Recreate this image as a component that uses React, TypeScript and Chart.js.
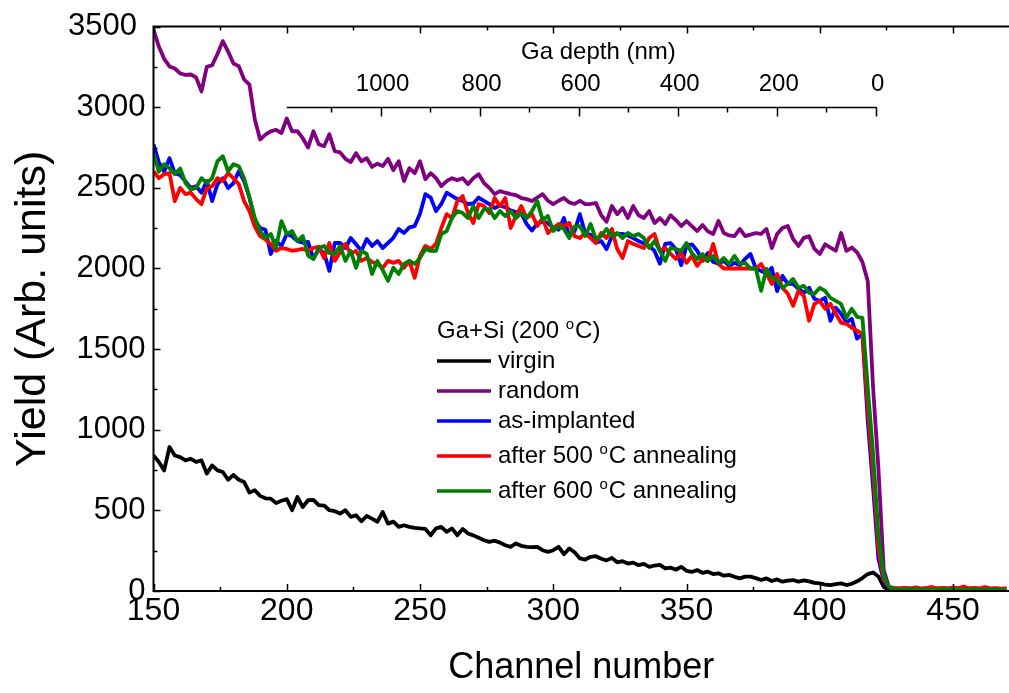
import { useEffect, useRef } from "react";
import { Chart, registerables } from "chart.js";

Chart.register(...registerables);

const FONT = '"Liberation Sans", Arial, Helvetica, sans-serif';

// Channel numbers shared by every spectrum
const channels = [
  150, 152, 154, 156, 158, 160, 162, 164, 166, 168,
  170, 172, 174, 176, 178, 180, 182, 184, 186, 188,
  190, 192, 194, 196, 198, 200, 202, 204, 206, 208,
  210, 212, 214, 216, 218, 220, 222, 224, 226, 228,
  230, 232, 234, 236, 238, 240, 242, 244, 246, 248,
  250, 252, 254, 256, 258, 260, 262, 264, 266, 268,
  270, 272, 274, 276, 278, 280, 282, 284, 286, 288,
  290, 292, 294, 296, 298, 300, 302, 304, 306, 308,
  310, 312, 314, 316, 318, 320, 322, 324, 326, 328,
  330, 332, 334, 336, 338, 340, 342, 344, 346, 348,
  350, 352, 354, 356, 358, 360, 362, 364, 366, 368,
  370, 372, 374, 376, 378, 380, 382, 384, 386, 388,
  390, 392, 394, 396, 398, 400, 402, 404, 406, 408,
  410, 412, 414, 416, 418, 420, 422, 424, 426, 428,
  430, 432, 434, 436, 438, 440, 442, 444, 446, 448,
  450, 452, 454, 456, 458, 460, 462, 464, 466, 468,
  470,
];

// Backscattering yields (counts) per channel
const virgin = [
  841, 800, 748, 893, 840, 830, 810, 820, 800, 810,
  728, 779, 748, 738, 690, 720, 690, 676, 610, 625,
  590, 575, 573, 545, 560, 570, 501, 583, 521, 563,
  565, 532, 530, 501, 495, 480, 501, 460, 470, 432,
  465, 449, 429, 490, 418, 430, 398, 408, 398, 392,
  388, 385, 346, 388, 398, 367, 388, 346, 385, 357,
  345, 330, 315, 305, 312, 300, 284, 274, 295, 280,
  274, 272, 274, 253, 243, 253, 274, 228, 264, 240,
  202, 195, 212, 216, 200, 190, 205, 178, 185, 170,
  176, 160, 168, 150, 158, 162, 140, 145, 132, 150,
  125, 118, 130, 112, 120, 105, 110, 95, 100, 88,
  78, 89, 89, 80, 68, 78, 62, 72, 58, 65,
  68, 58, 66, 60, 50, 47, 40, 37, 42, 47,
  37, 45, 60, 80, 105, 115, 90, 25, 8, 5,
  5, 4, 6, 5, 4, 5, 6, 4, 5, 5,
  4, 5, 6, 4, 5, 5, 4, 6, 5, 4,
  5,
];

const random = [
  3480, 3376, 3300, 3253, 3240, 3210, 3200, 3203, 3185, 3098,
  3250, 3260, 3330, 3410, 3345, 3271, 3255, 3172, 3140, 2925,
  2800, 2830, 2850, 2860, 2840, 2930, 2851, 2851, 2808, 2750,
  2851, 2770, 2758, 2832, 2727, 2720, 2680, 2660, 2715, 2665,
  2684, 2630, 2650, 2635, 2680, 2610, 2665, 2542, 2622, 2591,
  2665, 2554, 2591, 2560, 2511, 2542, 2560, 2548, 2560, 2523,
  2560, 2585, 2530, 2500, 2461, 2480, 2470, 2461, 2455, 2437,
  2430, 2418, 2440, 2461, 2420, 2399, 2420, 2437, 2410, 2400,
  2420, 2399, 2400, 2406, 2330, 2290, 2387, 2337, 2375, 2313,
  2387, 2330, 2313, 2356, 2282, 2313, 2276, 2330, 2300, 2263,
  2294, 2263, 2232, 2270, 2230, 2214, 2294, 2220, 2205, 2201,
  2245, 2201, 2210, 2220, 2214, 2245, 2127, 2214, 2251, 2263,
  2183, 2140, 2190, 2200, 2121, 2090, 2150, 2130, 2110, 2220,
  2109, 2130, 2100, 2040, 1923, 1262, 760, 130, 22, 18,
  16, 18, 15, 17, 14, 18, 16, 15, 17, 16,
  15, 17, 14, 16, 15, 13, 16, 14, 15, 13,
  14,
];

const asImplanted = [
  2770, 2660, 2600, 2684, 2590, 2580, 2540, 2500, 2510, 2470,
  2542, 2418, 2523, 2560, 2498, 2530, 2603, 2542, 2440, 2300,
  2251, 2240, 2090, 2170, 2140, 2214, 2200, 2170, 2160, 2165,
  2060, 2120, 2096, 1985, 2158, 2158, 2127, 2189, 2150, 2109,
  2183, 2140, 2170, 2127, 2158, 2190, 2245, 2220, 2255, 2263,
  2340, 2461, 2440, 2356, 2400, 2470, 2450, 2430, 2418, 2400,
  2403, 2440, 2420, 2399, 2375, 2390, 2380, 2360, 2350, 2340,
  2276, 2235, 2280, 2290, 2282, 2251, 2240, 2313, 2201, 2232,
  2337, 2215, 2210, 2160, 2170, 2120, 2200, 2214, 2215, 2205,
  2189, 2170, 2155, 2140, 2109, 2030, 2152, 2158, 2120, 2020,
  2140, 2150, 2110, 2047, 2096, 2040, 2030, 2047, 2016, 2035,
  2020, 2060, 2090, 2000, 1985, 1970, 2004, 1860, 1954, 1904,
  1904, 1874, 1849, 1880, 1812, 1799, 1818, 1676, 1756, 1719,
  1665, 1688, 1565, 1595, 1057, 643, 200, 60, 20, 12,
  10, 12, 9, 11, 10, 12, 9, 10, 11, 9,
  10, 11, 9, 10, 12, 9, 10, 11, 9, 10,
  10,
];

const annealed500 = [
  2603, 2560, 2585, 2591, 2418, 2500, 2461, 2470, 2430, 2399,
  2498, 2511, 2560, 2542, 2591, 2560, 2523, 2418, 2356, 2260,
  2200, 2180, 2152, 2109, 2127, 2121, 2110, 2115, 2121, 2109,
  2127, 2135, 2065, 2158, 2047, 2100, 2152, 2090, 2109, 2047,
  2065, 2040, 2028, 2004, 2047, 2035, 2047, 2004, 2047, 1942,
  2080, 2140, 2121, 2152, 2251, 2337, 2313, 2418, 2449, 2344,
  2282, 2399, 2387, 2344, 2437, 2387, 2437, 2251, 2325, 2387,
  2313, 2337, 2263, 2313, 2220, 2251, 2276, 2263, 2282, 2200,
  2189, 2220, 2189, 2158, 2220, 2189, 2245, 2121, 2065, 2170,
  2152, 2140, 2127, 2189, 2214, 2109, 2127, 2090, 2059, 2096,
  2035, 2078, 2016, 2059, 2047, 2152, 2028, 2000, 2000, 2000,
  2000, 2000, 2000, 2000, 2028, 1970, 1904, 1966, 1880, 1843,
  1769, 1861, 1830, 1676, 1781, 1799, 1750, 1781, 1719, 1663,
  1657, 1632, 1614, 1595, 1138, 730, 260, 70, 25, 18,
  14, 20, 16, 22, 15, 18, 25, 16, 19, 14,
  22, 17, 28, 15, 20, 16, 24, 15, 18, 14,
  16,
];

const annealed600 = [
  2715, 2600, 2647, 2622, 2585, 2620, 2530, 2490, 2500, 2560,
  2529, 2560, 2665, 2696, 2603, 2647, 2634, 2560, 2440, 2313,
  2232, 2189, 2214, 2127, 2294, 2214, 2232, 2170, 2201, 2080,
  2059, 2127, 2140, 2096, 2090, 2140, 2047, 2109, 2004, 2109,
  2090, 1966, 2047, 1990, 1923, 2004, 1966, 2028, 2047, 2028,
  2065, 2120, 2109, 2109, 2214, 2232, 2313, 2356, 2344, 2313,
  2387, 2313, 2368, 2368, 2313, 2356, 2325, 2356, 2313, 2344,
  2313, 2356, 2418, 2300, 2325, 2232, 2263, 2245, 2189, 2260,
  2263, 2201, 2276, 2183, 2201, 2245, 2201, 2220, 2189, 2220,
  2201, 2214, 2189, 2127, 2170, 2109, 2047, 2127, 2120, 2109,
  2158, 2096, 2059, 2090, 2047, 2078, 2035, 2065, 2028, 2078,
  2028, 2035, 2000, 2000, 1861, 1997, 1942, 1930, 1880, 1904,
  1935, 1880, 1892, 1849, 1843, 1880, 1861, 1818, 1799, 1781,
  1694, 1750, 1700, 1694, 1262, 853, 350, 90, 25, 12,
  10, 9, 11, 10, 9, 10, 8, 10, 9, 10,
  9, 10, 8, 9, 10, 9, 8, 10, 9, 9,
  9,
];

const seriesLabels = [
  "virgin",
  "random",
  "as-implanted",
  "after 500 °C annealing",
  "after 600 °C annealing",
];
const seriesColors = ["#000000", "#800080", "#0000ff", "#ff0000", "#008000"];
const seriesValues = [virgin, random, asImplanted, annealed500, annealed600];
const legendTitle = "Ga+Si (200 °C)";

// Ga depth scale (nm), tied to the channel axis
const depthMajorNm = [1000, 800, 600, 400, 200, 0];
const depthMinorNm = [1100, 900, 700, 500, 300, 100];
const surfaceChannel = 421;
const nmPerChannel = 5.382;
const depthAxisFromChannel = 200;
const depthAxisYield = 3000;
const depthTitle = "Ga depth (nm)";
const depthTitleNm = 560;

const X_MIN = 150;
const X_MAX = 471;
const Y_MIN = 0;
const Y_MAX = 3500;

const depthToChannel = (nm: number) => surfaceChannel - nm / nmPerChannel;

// Writes text where "°" is set as a small raised "o"
function drawDegreeText(ctx: CanvasRenderingContext2D, text: string, x: number, y: number, size: number) {
  const parts = text.split("°");
  let cx = x;
  parts.forEach((p, i) => {
    if (i > 0) {
      const sup = Math.round(size * 0.62);
      ctx.font = `${sup}px ${FONT}`;
      ctx.textBaseline = "alphabetic";
      ctx.fillText("o", cx, y - size * 0.1);
      cx += ctx.measureText("o").width + 1;
    }
    ctx.font = `${size}px ${FONT}`;
    ctx.textBaseline = "middle";
    ctx.fillText(p, cx, y);
    cx += ctx.measureText(p).width;
  });
}

const framePlugin = {
  id: "frame",
  afterDraw(chart: any) {
    const { ctx, chartArea: a, scales } = chart;
    const x = scales.x;
    const y = scales.y;
    ctx.save();
    ctx.strokeStyle = "#000";
    ctx.lineWidth = 2;
    ctx.lineCap = "square";
    ctx.beginPath();
    ctx.moveTo(a.left, a.top);
    ctx.lineTo(a.right, a.top);
    ctx.moveTo(a.left, a.top);
    ctx.lineTo(a.left, a.bottom);
    ctx.moveTo(a.left, a.bottom);
    ctx.lineTo(a.right, a.bottom);
    ctx.stroke();

    ctx.lineWidth = 1.5;
    ctx.lineCap = "butt";
    ctx.beginPath();
    for (let v = X_MIN; v <= X_MAX; v += 25) {
      const px = Math.round(x.getPixelForValue(v)) + 0.5;
      const len = v % 50 === 0 ? 7 : 4;
      ctx.moveTo(px, a.bottom);
      ctx.lineTo(px, a.bottom - len);
      ctx.moveTo(px, a.top);
      ctx.lineTo(px, a.top + len);
    }
    for (let v = Y_MIN; v <= Y_MAX; v += 250) {
      const py = Math.round(y.getPixelForValue(v)) + 0.5;
      const len = v % 500 === 0 ? 7 : 4;
      ctx.moveTo(a.left, py);
      ctx.lineTo(a.left + len, py);
    }
    ctx.stroke();
    ctx.restore();
  },
};

const depthAxisPlugin = {
  id: "depthAxis",
  afterDraw(chart: any) {
    const { ctx, scales } = chart;
    const x = scales.x;
    const y = scales.y;
    const py = Math.round(y.getPixelForValue(depthAxisYield)) + 0.5;
    ctx.save();
    ctx.strokeStyle = "#000";
    ctx.fillStyle = "#000";
    ctx.lineWidth = 1.5;
    ctx.beginPath();
    ctx.moveTo(x.getPixelForValue(depthAxisFromChannel), py);
    ctx.lineTo(x.getPixelForValue(depthToChannel(0)) + 1, py);
    depthMajorNm.forEach((nm) => {
      const px = Math.round(x.getPixelForValue(depthToChannel(nm))) + 0.5;
      ctx.moveTo(px, py);
      ctx.lineTo(px, py + 9);
    });
    depthMinorNm.forEach((nm) => {
      const px = Math.round(x.getPixelForValue(depthToChannel(nm))) + 0.5;
      ctx.moveTo(px, py);
      ctx.lineTo(px, py + 5);
    });
    ctx.stroke();

    ctx.font = `24px ${FONT}`;
    ctx.textAlign = "center";
    ctx.textBaseline = "middle";
    depthMajorNm.forEach((nm) => {
      ctx.fillText(String(nm), x.getPixelForValue(depthToChannel(nm)) + 2, py - 23);
    });
    ctx.fillText(depthTitle, x.getPixelForValue(depthToChannel(depthTitleNm)), py - 55);
    ctx.restore();
  },
};

const legendPlugin = {
  id: "sampleLegend",
  afterDraw(chart: any) {
    const { ctx } = chart;
    const left = 437;
    const size = 24;
    ctx.save();
    ctx.fillStyle = "#000";
    ctx.textAlign = "left";
    let rowY = 331;
    drawDegreeText(ctx, legendTitle, left, rowY, size);
    chart.data.datasets.forEach((ds: any) => {
      rowY += ds.label.includes("°") ? 35 : 30;
      ctx.strokeStyle = ds.borderColor;
      ctx.lineWidth = 3.5;
      ctx.beginPath();
      ctx.moveTo(left, rowY);
      ctx.lineTo(left + 54, rowY);
      ctx.stroke();
      ctx.fillStyle = "#000";
      drawDegreeText(ctx, ds.label, left + 61, rowY, size);
    });
    ctx.restore();
  },
};

export default function App() {
  const canvasRef = useRef<HTMLCanvasElement>(null);

  useEffect(() => {
    const canvas = canvasRef.current;
    if (!canvas) return;
    const chart = new Chart(canvas, {
      type: "line",
      data: {
        datasets: seriesLabels.map((label, i) => ({
          label,
          data: channels.map((c, k) => ({ x: c, y: seriesValues[i][k] })),
          borderColor: seriesColors[i],
          backgroundColor: seriesColors[i],
          borderWidth: 3.8,
          borderJoinStyle: "round" as const,
          pointRadius: 0,
          tension: 0,
          fill: false,
          order: seriesLabels.length - i,
        })),
      },
      options: {
        animation: false,
        responsive: false,
        devicePixelRatio: 1,
        layout: { padding: { top: 25, left: 0, right: 0, bottom: 0 } },
        plugins: {
          legend: { display: false },
          tooltip: { enabled: false },
        },
        scales: {
          x: {
            type: "linear",
            min: X_MIN,
            max: X_MAX,
            grid: { display: false, drawTicks: false },
            border: { display: false },
            ticks: {
              stepSize: 50,
              includeBounds: false,
              autoSkip: false,
              maxRotation: 0,
              padding: 1,
              color: "#000",
              font: { family: FONT, size: 32 },
              callback: (v: any) => String(v),
            },
            title: {
              display: true,
              text: "Channel number",
              color: "#000",
              font: { family: FONT, size: 36 },
              padding: { top: 0, bottom: 3 },
            },
            afterFit: (s: any) => {
              s.height = 102;
            },
          },
          y: {
            type: "linear",
            min: Y_MIN,
            max: Y_MAX,
            grid: { display: false, drawTicks: false },
            border: { display: false },
            ticks: {
              stepSize: 500,
              padding: 8,
              color: "#000",
              font: { family: FONT, size: 31 },
              // the top label sits slightly further out from the axis
              callback: (v: any) => (v === Y_MAX ? `${v} ` : String(v)),
            },
            title: {
              display: true,
              text: "Yield (Arb. units)",
              color: "#000",
              font: { family: FONT, size: 43 },
              padding: { top: 7, bottom: 0 },
            },
            afterFit: (s: any) => {
              s.width = 153.5;
            },
          },
        },
      },
      plugins: [framePlugin, depthAxisPlugin, legendPlugin],
    });
    return () => chart.destroy();
  }, []);

  return (
    <div style={{ position: "absolute", left: 0, top: 0, width: 1009, height: 693, background: "#fff" }}>
      <canvas ref={canvasRef} width={1009} height={693} style={{ display: "block", width: 1009, height: 693 }} />
    </div>
  );
}
